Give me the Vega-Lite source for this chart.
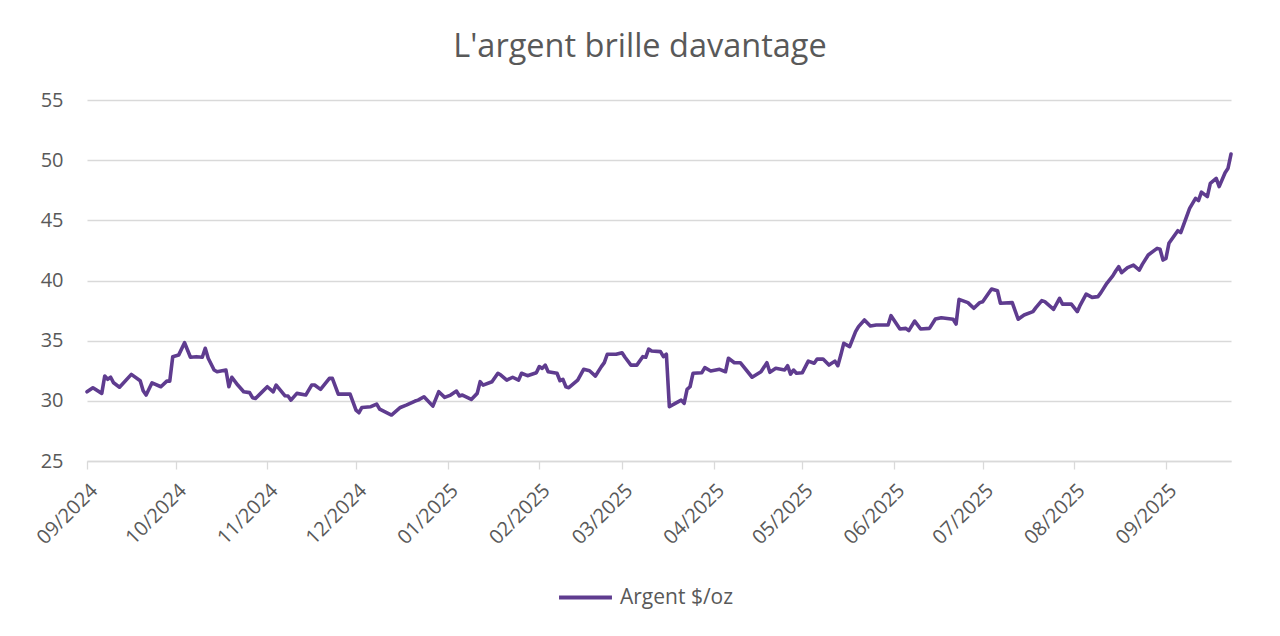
{
  "$schema": "https://vega.github.io/schema/vega-lite/v6.json",
  "width": 1144,
  "height": 361,
  "autosize": {"type": "none"},
  "padding": {"left": 87, "top": 100, "right": 49, "bottom": 175},
  "background": "white",
  "config": {
    "font": "Open Sans",
    "view": {"stroke": null}
  },
  "title": {
    "text": "L'argent brille davantage",
    "fontSize": 32.5,
    "fontWeight": "normal",
    "color": "#595959",
    "anchor": "middle",
    "dx": -19,
    "offset": 27
  },
  "data": {
    "values": [
      {"date": "2024-09-01", "price": 30.75},
      {"date": "2024-09-03", "price": 31.09},
      {"date": "2024-09-06", "price": 30.62},
      {"date": "2024-09-07", "price": 32.06},
      {"date": "2024-09-08", "price": 31.79},
      {"date": "2024-09-09", "price": 31.96},
      {"date": "2024-09-10", "price": 31.5},
      {"date": "2024-09-12", "price": 31.13},
      {"date": "2024-09-16", "price": 32.2},
      {"date": "2024-09-19", "price": 31.67},
      {"date": "2024-09-20", "price": 30.84},
      {"date": "2024-09-21", "price": 30.48},
      {"date": "2024-09-23", "price": 31.5},
      {"date": "2024-09-26", "price": 31.17},
      {"date": "2024-09-28", "price": 31.64},
      {"date": "2024-09-29", "price": 31.64},
      {"date": "2024-09-30", "price": 33.67},
      {"date": "2024-10-02", "price": 33.8},
      {"date": "2024-10-04", "price": 34.83},
      {"date": "2024-10-06", "price": 33.62},
      {"date": "2024-10-08", "price": 33.67},
      {"date": "2024-10-10", "price": 33.62},
      {"date": "2024-10-11", "price": 34.37},
      {"date": "2024-10-12", "price": 33.54},
      {"date": "2024-10-14", "price": 32.56},
      {"date": "2024-10-15", "price": 32.42},
      {"date": "2024-10-18", "price": 32.56},
      {"date": "2024-10-19", "price": 31.17},
      {"date": "2024-10-20", "price": 31.96},
      {"date": "2024-10-22", "price": 31.31},
      {"date": "2024-10-24", "price": 30.76},
      {"date": "2024-10-26", "price": 30.68},
      {"date": "2024-10-27", "price": 30.26},
      {"date": "2024-10-28", "price": 30.2},
      {"date": "2024-10-30", "price": 30.68},
      {"date": "2024-11-01", "price": 31.17},
      {"date": "2024-11-03", "price": 30.75},
      {"date": "2024-11-04", "price": 31.31},
      {"date": "2024-11-07", "price": 30.42},
      {"date": "2024-11-08", "price": 30.4},
      {"date": "2024-11-09", "price": 30.06},
      {"date": "2024-11-11", "price": 30.62},
      {"date": "2024-11-14", "price": 30.48},
      {"date": "2024-11-16", "price": 31.31},
      {"date": "2024-11-17", "price": 31.31},
      {"date": "2024-11-19", "price": 30.95},
      {"date": "2024-11-22", "price": 31.87},
      {"date": "2024-11-23", "price": 31.87},
      {"date": "2024-11-25", "price": 30.56},
      {"date": "2024-11-29", "price": 30.56},
      {"date": "2024-12-01", "price": 29.23},
      {"date": "2024-12-02", "price": 29.01},
      {"date": "2024-12-03", "price": 29.45},
      {"date": "2024-12-06", "price": 29.51},
      {"date": "2024-12-08", "price": 29.73},
      {"date": "2024-12-09", "price": 29.31},
      {"date": "2024-12-13", "price": 28.82},
      {"date": "2024-12-16", "price": 29.45},
      {"date": "2024-12-18", "price": 29.64},
      {"date": "2024-12-21", "price": 29.98},
      {"date": "2024-12-22", "price": 30.06},
      {"date": "2024-12-24", "price": 30.34},
      {"date": "2024-12-27", "price": 29.56},
      {"date": "2024-12-29", "price": 30.76},
      {"date": "2024-12-31", "price": 30.29},
      {"date": "2025-01-02", "price": 30.48},
      {"date": "2025-01-04", "price": 30.81},
      {"date": "2025-01-05", "price": 30.4},
      {"date": "2025-01-06", "price": 30.48},
      {"date": "2025-01-09", "price": 30.12},
      {"date": "2025-01-11", "price": 30.62},
      {"date": "2025-01-12", "price": 31.59},
      {"date": "2025-01-13", "price": 31.31},
      {"date": "2025-01-16", "price": 31.59},
      {"date": "2025-01-18", "price": 32.29},
      {"date": "2025-01-19", "price": 32.14},
      {"date": "2025-01-21", "price": 31.72},
      {"date": "2025-01-23", "price": 31.96},
      {"date": "2025-01-25", "price": 31.72},
      {"date": "2025-01-26", "price": 32.29},
      {"date": "2025-01-28", "price": 32.09},
      {"date": "2025-01-31", "price": 32.34},
      {"date": "2025-02-01", "price": 32.84},
      {"date": "2025-02-02", "price": 32.7},
      {"date": "2025-02-03", "price": 32.97},
      {"date": "2025-02-04", "price": 32.42},
      {"date": "2025-02-07", "price": 32.29},
      {"date": "2025-02-08", "price": 31.67},
      {"date": "2025-02-09", "price": 31.79},
      {"date": "2025-02-10", "price": 31.17},
      {"date": "2025-02-11", "price": 31.09},
      {"date": "2025-02-14", "price": 31.72},
      {"date": "2025-02-16", "price": 32.62},
      {"date": "2025-02-18", "price": 32.5},
      {"date": "2025-02-20", "price": 32.06},
      {"date": "2025-02-22", "price": 32.84},
      {"date": "2025-02-23", "price": 33.17},
      {"date": "2025-02-24", "price": 33.87},
      {"date": "2025-02-27", "price": 33.87},
      {"date": "2025-03-01", "price": 34.0},
      {"date": "2025-03-02", "price": 33.62},
      {"date": "2025-03-04", "price": 32.97},
      {"date": "2025-03-06", "price": 32.97},
      {"date": "2025-03-08", "price": 33.67},
      {"date": "2025-03-09", "price": 33.62},
      {"date": "2025-03-10", "price": 34.3},
      {"date": "2025-03-11", "price": 34.14},
      {"date": "2025-03-14", "price": 34.09},
      {"date": "2025-03-15", "price": 33.67},
      {"date": "2025-03-16", "price": 33.87},
      {"date": "2025-03-17", "price": 29.51},
      {"date": "2025-03-19", "price": 29.79},
      {"date": "2025-03-21", "price": 30.06},
      {"date": "2025-03-22", "price": 29.79},
      {"date": "2025-03-23", "price": 30.95},
      {"date": "2025-03-24", "price": 31.17},
      {"date": "2025-03-25", "price": 32.29},
      {"date": "2025-03-28", "price": 32.34},
      {"date": "2025-03-29", "price": 32.76},
      {"date": "2025-03-31", "price": 32.48},
      {"date": "2025-04-03", "price": 32.62},
      {"date": "2025-04-05", "price": 32.42},
      {"date": "2025-04-06", "price": 33.54},
      {"date": "2025-04-08", "price": 33.17},
      {"date": "2025-04-10", "price": 33.17},
      {"date": "2025-04-14", "price": 31.96},
      {"date": "2025-04-17", "price": 32.42},
      {"date": "2025-04-19", "price": 33.17},
      {"date": "2025-04-20", "price": 32.37},
      {"date": "2025-04-22", "price": 32.7},
      {"date": "2025-04-25", "price": 32.56},
      {"date": "2025-04-26", "price": 32.92},
      {"date": "2025-04-27", "price": 32.22},
      {"date": "2025-04-28", "price": 32.56},
      {"date": "2025-04-29", "price": 32.29},
      {"date": "2025-05-01", "price": 32.34},
      {"date": "2025-05-03", "price": 33.3},
      {"date": "2025-05-05", "price": 33.12},
      {"date": "2025-05-06", "price": 33.47},
      {"date": "2025-05-08", "price": 33.47},
      {"date": "2025-05-10", "price": 32.97},
      {"date": "2025-05-12", "price": 33.3},
      {"date": "2025-05-13", "price": 32.92},
      {"date": "2025-05-14", "price": 33.8},
      {"date": "2025-05-15", "price": 34.78},
      {"date": "2025-05-17", "price": 34.5},
      {"date": "2025-05-19", "price": 35.75},
      {"date": "2025-05-20", "price": 36.17},
      {"date": "2025-05-22", "price": 36.72},
      {"date": "2025-05-24", "price": 36.22},
      {"date": "2025-05-26", "price": 36.3},
      {"date": "2025-05-30", "price": 36.3},
      {"date": "2025-05-31", "price": 37.08},
      {"date": "2025-06-03", "price": 35.97},
      {"date": "2025-06-05", "price": 36.02},
      {"date": "2025-06-06", "price": 35.83},
      {"date": "2025-06-08", "price": 36.63},
      {"date": "2025-06-10", "price": 35.97},
      {"date": "2025-06-13", "price": 36.02},
      {"date": "2025-06-15", "price": 36.8},
      {"date": "2025-06-17", "price": 36.91},
      {"date": "2025-06-21", "price": 36.78},
      {"date": "2025-06-22", "price": 36.38},
      {"date": "2025-06-23", "price": 38.43},
      {"date": "2025-06-26", "price": 38.16},
      {"date": "2025-06-28", "price": 37.69},
      {"date": "2025-06-30", "price": 38.16},
      {"date": "2025-07-01", "price": 38.24},
      {"date": "2025-07-04", "price": 39.29},
      {"date": "2025-07-06", "price": 39.15},
      {"date": "2025-07-07", "price": 38.11},
      {"date": "2025-07-11", "price": 38.16},
      {"date": "2025-07-13", "price": 36.78},
      {"date": "2025-07-15", "price": 37.13},
      {"date": "2025-07-18", "price": 37.41},
      {"date": "2025-07-19", "price": 37.74},
      {"date": "2025-07-21", "price": 38.33},
      {"date": "2025-07-22", "price": 38.24},
      {"date": "2025-07-25", "price": 37.61},
      {"date": "2025-07-27", "price": 38.52},
      {"date": "2025-07-28", "price": 38.04},
      {"date": "2025-07-31", "price": 38.04},
      {"date": "2025-08-02", "price": 37.41},
      {"date": "2025-08-03", "price": 37.96},
      {"date": "2025-08-05", "price": 38.87},
      {"date": "2025-08-07", "price": 38.6},
      {"date": "2025-08-09", "price": 38.66},
      {"date": "2025-08-10", "price": 38.99},
      {"date": "2025-08-12", "price": 39.77},
      {"date": "2025-08-14", "price": 40.38},
      {"date": "2025-08-15", "price": 40.79},
      {"date": "2025-08-16", "price": 41.15},
      {"date": "2025-08-17", "price": 40.65},
      {"date": "2025-08-19", "price": 41.07},
      {"date": "2025-08-21", "price": 41.28},
      {"date": "2025-08-23", "price": 40.87},
      {"date": "2025-08-24", "price": 41.34},
      {"date": "2025-08-26", "price": 42.12},
      {"date": "2025-08-29", "price": 42.67},
      {"date": "2025-08-30", "price": 42.59},
      {"date": "2025-08-31", "price": 41.7},
      {"date": "2025-09-01", "price": 41.84},
      {"date": "2025-09-02", "price": 43.09},
      {"date": "2025-09-05", "price": 44.14},
      {"date": "2025-09-06", "price": 43.98},
      {"date": "2025-09-09", "price": 46.0},
      {"date": "2025-09-11", "price": 46.83},
      {"date": "2025-09-12", "price": 46.64},
      {"date": "2025-09-13", "price": 47.34},
      {"date": "2025-09-15", "price": 46.97},
      {"date": "2025-09-16", "price": 48.08},
      {"date": "2025-09-18", "price": 48.49},
      {"date": "2025-09-19", "price": 47.8},
      {"date": "2025-09-21", "price": 48.96},
      {"date": "2025-09-22", "price": 49.33},
      {"date": "2025-09-23", "price": 50.51}
    ]
  },
  "mark": {"type": "line", "strokeWidth": 3.6, "strokeJoin": "round", "strokeCap": "round"},
  "encoding": {
    "x": {
      "field": "date",
      "type": "temporal",
      "scale": {"type": "utc", "domain": ["2024-09-01", "2025-09-23"], "nice": false},
      "axis": {
        "title": null,
        "labelExpr": "utcFormat(datum.value, '%m/%Y')",
        "tickCount": {"interval": "month", "step": 1},
        "labelAngle": -45,
        "labelFontSize": 20,
        "labelColor": "#595959",
        "labelPadding": 11,
        "labelDx": -5,
        "labelOverlap": false,
        "labelFlush": false,
        "grid": false,
        "domainColor": "#D9D9D9",
        "domainWidth": 1.3,
        "tickColor": "#D9D9D9",
        "tickWidth": 1.3,
        "tickSize": 8
      }
    },
    "y": {
      "field": "price",
      "type": "quantitative",
      "scale": {"domain": [25, 55], "nice": false, "zero": false},
      "axis": {
        "title": null,
        "values": [25, 30, 35, 40, 45, 50, 55],
        "labelFontSize": 20,
        "labelColor": "#595959",
        "labelPadding": 24,
        "domain": false,
        "ticks": false,
        "gridColor": "#D9D9D9",
        "gridWidth": 1.3
      }
    },
    "color": {
      "datum": "Argent $/oz",
      "type": "nominal",
      "scale": {"range": ["#5F3C8F"]},
      "legend": {
        "title": null,
        "orient": "none",
        "legendX": 470,
        "legendY": 469,
        "direction": "horizontal",
        "symbolType": "stroke",
        "symbolSize": 2800,
        "symbolStrokeWidth": 4,
        "labelFontSize": 21,
        "labelColor": "#595959",
        "labelOffset": 6
      }
    }
  }
}
